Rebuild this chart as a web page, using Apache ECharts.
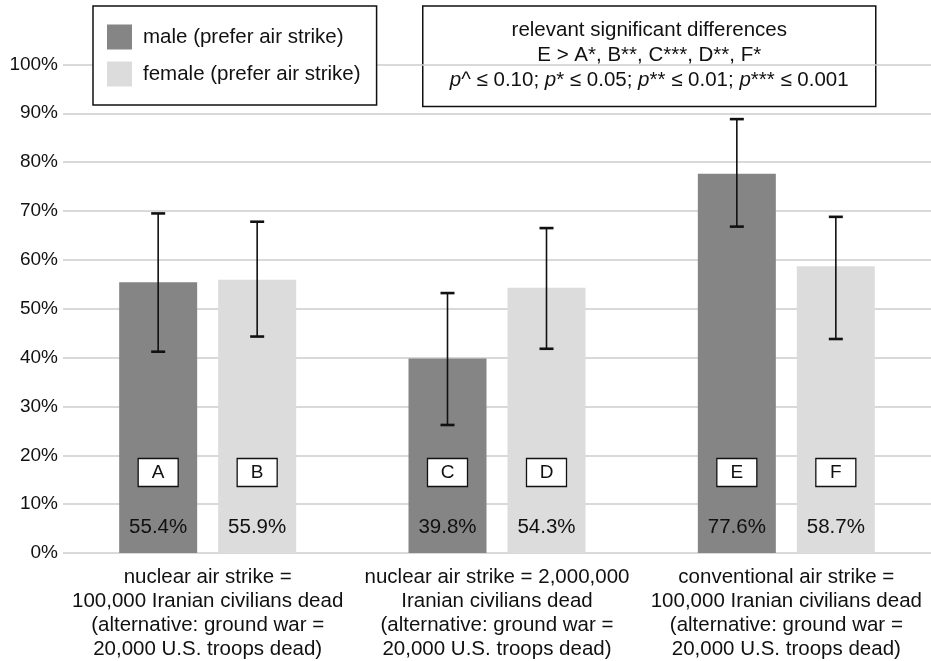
<!DOCTYPE html>
<html>
<head>
<meta charset="utf-8">
<script src="https://cdn.jsdelivr.net/npm/echarts@6/dist/echarts.min.js"></script>
<style>
html,body{margin:0;padding:0;background:#fff;}
#chart{width:931px;height:661px;}
</style>
</head>
<body>
<div id="chart"></div>
<script>
// ---- data ----
const categories = [
  "nuclear air strike =\n100,000 Iranian civilians dead\n(alternative: ground war =\n20,000 U.S. troops dead)",
  "nuclear air strike = 2,000,000\nIranian civilians dead\n(alternative: ground war =\n20,000 U.S. troops dead)",
  "conventional air strike =\n100,000 Iranian civilians dead\n(alternative: ground war =\n20,000 U.S. troops dead)"
];
const seriesNames = ["male (prefer air strike)", "female (prefer air strike)"];
const maleValues = [55.4, 39.8, 77.6];
const femaleValues = [55.9, 54.3, 58.7];
const maleLow = [41.2, 26.2, 66.8];
const maleHigh = [69.5, 53.2, 88.8];
const femaleLow = [44.3, 41.8, 43.8];
const femaleHigh = [67.8, 66.5, 68.8];
const maleLetters = ["A", "C", "E"];
const femaleLetters = ["B", "D", "F"];
const yTicks = [0, 10, 20, 30, 40, 50, 60, 70, 80, 90, 100];
const noteLines = [
  "relevant significant differences",
  "E > A*, B**, C***, D**, F*",
  ["p", "^ ≤ 0.10; ", "p", "* ≤ 0.05; ", "p", "** ≤ 0.01; ", "p", "*** ≤ 0.001"]
];

// ---- style ----
const FONT = '"Liberation Sans", Arial, Helvetica, sans-serif';
const TXT = '#111';
const BAR_W = 78;
const BAR_GAP = 21;
const HALF = (BAR_W + BAR_GAP) / 2;
const colors = ['#858585', '#dcdcdc'];

const errData = [];
const labelData = [];
for (let i = 0; i < categories.length; i++) {
  errData.push([i, maleLow[i], maleHigh[i], -1]);
  errData.push([i, femaleLow[i], femaleHigh[i], 1]);
  labelData.push([i, maleValues[i], -1, maleLetters[i]]);
  labelData.push([i, femaleValues[i], 1, femaleLetters[i]]);
}

const chart = echarts.init(document.getElementById('chart'), null, {renderer: 'canvas'});

const noteRich = noteLines[2].map((s, k) => k % 2 === 0 ? '{i|' + s + '}' : '{n|' + s + '}').join('');

chart.setOption({
  animation: false,
  backgroundColor: '#fff',
  textStyle: {fontFamily: FONT},
  grid: {left: 63, width: 869, top: 64.4, bottom: 107.7, containLabel: false},
  legend: {
    orient: 'vertical',
    left: 93, top: 6,
    padding: [18.5, 16, 18.5, 14],
    itemWidth: 25, itemHeight: 25, itemGap: 12,
    borderColor: '#111', borderWidth: 1.5,
    backgroundColor: '#fff',
    icon: 'rect',
    textStyle: {fontSize: 20.5, color: TXT, fontFamily: FONT, padding: [0, 0, 0, 6]},
    data: seriesNames,
    z: 10
  },
  xAxis: {
    type: 'category',
    data: categories,
    axisLine: {show: false},
    axisTick: {show: false},
    axisLabel: {interval: 0, fontSize: 20.5, lineHeight: 24, color: TXT, margin: 12, fontFamily: FONT}
  },
  yAxis: {
    type: 'value',
    min: yTicks[0], max: yTicks[yTicks.length - 1], interval: 10,
    axisLine: {show: false},
    axisTick: {show: false},
    axisLabel: {formatter: '{value}%', fontSize: 19, color: TXT, margin: 5, fontFamily: FONT},
    splitLine: {lineStyle: {color: '#cccccc', width: 1.5}}
  },
  graphic: [{
    type: 'group',
    left: 422, top: 5.3,
    z: 10,
    children: [
      {type: 'rect', shape: {x: 0, y: 0, width: 453, height: 100.5},
       style: {fill: '#fff', stroke: '#111', lineWidth: 1.5}},
      {type: 'text', x: 226.5, y: 24.5,
       style: {text: noteLines[0], font: '20.5px ' + FONT, fill: TXT, align: 'center', verticalAlign: 'middle'}},
      {type: 'text', x: 226.5, y: 49.5,
       style: {text: noteLines[1], font: '20.5px ' + FONT, fill: TXT, align: 'center', verticalAlign: 'middle'}},
      {type: 'text', x: 226.5, y: 74.5,
       style: {text: noteRich, align: 'center', verticalAlign: 'middle',
         rich: {
           i: {fontSize: 20.5, fontStyle: 'italic', fontFamily: FONT, fill: TXT, color: TXT},
           n: {fontSize: 20.5, fontFamily: FONT, fill: TXT, color: TXT}
         }}}
    ]
  }],
  series: [
    {name: seriesNames[0], type: 'bar', data: maleValues, barWidth: BAR_W,
     barGap: (BAR_GAP / BAR_W * 100) + '%', itemStyle: {color: colors[0]}, z: 2},
    {name: seriesNames[1], type: 'bar', data: femaleValues, barWidth: BAR_W,
     itemStyle: {color: colors[1]}, z: 2},
    {
      type: 'custom', name: 'err', z: 5,
      data: errData,
      encode: {x: 0, y: [1, 2]},
      renderItem: function (params, api) {
        const c = api.value(0), side = api.value(3);
        const lo = api.coord([c, api.value(1)]);
        const hi = api.coord([c, api.value(2)]);
        const x = lo[0] + side * HALF;
        const cw = 7;
        return {
          type: 'group',
          children: [
            {type: 'line', shape: {x1: x, y1: lo[1], x2: x, y2: hi[1]}, style: {stroke: '#111', lineWidth: 1.6}},
            {type: 'line', shape: {x1: x - cw, y1: lo[1], x2: x + cw, y2: lo[1]}, style: {stroke: '#111', lineWidth: 2.6}},
            {type: 'line', shape: {x1: x - cw, y1: hi[1], x2: x + cw, y2: hi[1]}, style: {stroke: '#111', lineWidth: 2.6}}
          ]
        };
      }
    },
    {
      type: 'custom', name: 'labels', z: 6,
      data: labelData,
      encode: {x: 0, y: 1},
      renderItem: function (params, api) {
        const c = api.value(0), side = api.value(2);
        const letter = labelData[params.dataIndex][3];
        const base = api.coord([c, 0]);
        const x = base[0] + side * HALF;
        const y0 = base[1];
        return {
          type: 'group',
          children: [
            {type: 'rect', shape: {x: x - 20, y: y0 - 94.5, width: 40, height: 28},
             style: {fill: '#fff', stroke: '#111', lineWidth: 1.3}},
            {type: 'text', x: x, y: y0 - 80.3,
             style: {text: letter, font: '19px ' + FONT, fill: TXT, align: 'center', verticalAlign: 'middle'}},
            {type: 'text', x: x, y: y0 - 26,
             style: {text: api.value(1).toFixed(1) + '%', font: '20.5px ' + FONT, fill: TXT, align: 'center', verticalAlign: 'middle'}}
          ]
        };
      }
    }
  ]
});
</script>
</body>
</html>
